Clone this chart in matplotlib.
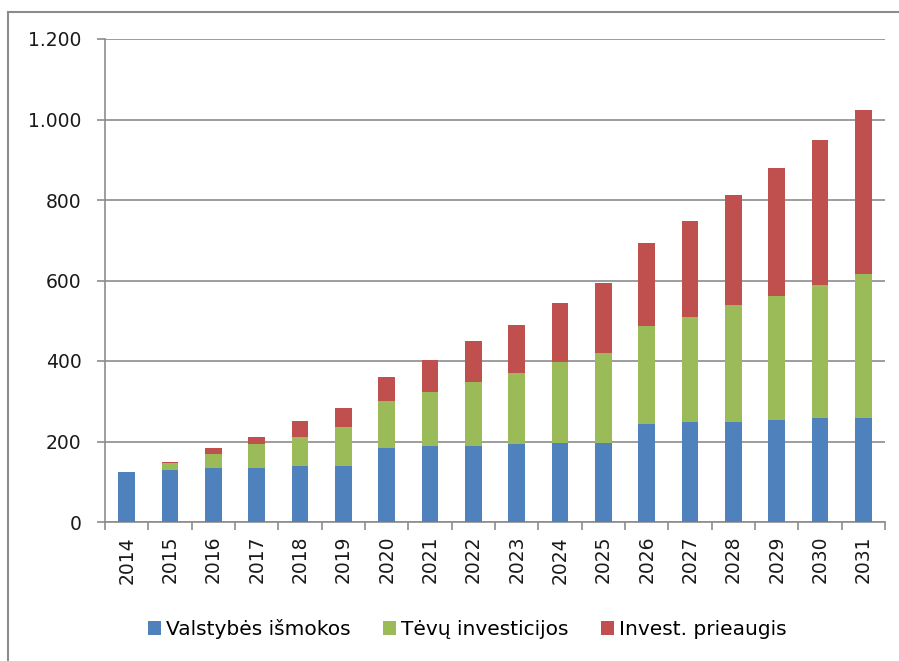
import numpy as np
import matplotlib.pyplot as plt
from matplotlib.lines import Line2D
from matplotlib.patches import Patch

years = ['2014', '2015', '2016', '2017', '2018', '2019', '2020', '2021', '2022',
         '2023', '2024', '2025', '2026', '2027', '2028', '2029', '2030', '2031']
valstybes = [123, 128, 133, 133, 138, 138, 184, 189, 189,
             195, 197, 197, 244, 248, 248, 253, 258, 258]
tevu = [0, 18, 37, 60, 74, 98, 117, 135, 158,
        175, 200, 224, 243, 261, 290, 308, 332, 359]
prieaugis = [0, 4, 14, 19, 38, 46, 60, 79, 103,
             120, 146, 174, 205, 239, 275, 319, 359, 407]
series_names = ['Valstybės išmokos', 'Tėvų investicijos', 'Invest. prieaugis']
colors = ['#4F81BD', '#9BBB59', '#C0504D']
yticks = [0, 200, 400, 600, 800, 1000, 1200]
ytick_labels = ['0', '200', '400', '600', '800', '1.000', '1.200']

plt.rcParams['font.family'] = ['DejaVu Sans']
fig = plt.figure(figsize=(8.99, 6.61), dpi=100)
ax = fig.add_axes([105 / 899, 1 - 522 / 661, 780 / 899, 483 / 661])

x = np.arange(len(years))
b1 = np.array(valstybes)
b2 = b1 + np.array(tevu)
w = 0.39
ax.bar(x, valstybes, w, color=colors[0], linewidth=0, zorder=3)
ax.bar(x, tevu, w, bottom=b1, color=colors[1], linewidth=0, zorder=3)
ax.bar(x, prieaugis, w, bottom=b2, color=colors[2], linewidth=0, zorder=3)

ax.set_xlim(-0.5, len(years) - 0.5)
ax.set_ylim(0, 1200)
ax.set_yticks(yticks)
ax.set_yticklabels(ytick_labels, fontsize=13.5, color='#1a1a1a')
ax.yaxis.grid(True, color='#8C8C8C', linewidth=1.2, zorder=0)
ax.set_axisbelow(True)

ax.set_xticks(x)
ax.set_xticklabels(years, rotation=90, fontsize=13.5, color='#1a1a1a')
ax.set_xticks(np.arange(-0.5, len(years), 1), minor=True)
ax.tick_params(axis='x', which='major', length=0, pad=10)
ax.tick_params(axis='x', which='minor', length=6, color='#8C8C8C', width=1.2)
ax.tick_params(axis='y', length=6, color='#8C8C8C', width=1.2, pad=11)

for s in ['top', 'right']:
    ax.spines[s].set_visible(False)
for s in ['left', 'bottom']:
    ax.spines[s].set_color('#8C8C8C')
    ax.spines[s].set_linewidth(1.2)

handles = [Patch(facecolor=c, edgecolor='none') for c in colors]
fig.legend(handles, series_names, loc='center', bbox_to_anchor=(467 / 899, 1 - 629 / 661),
           ncol=3, frameon=False, fontsize=14.5, handlelength=0.65, handleheight=0.65,
           handletextpad=0.25, columnspacing=1.6)

# outer chart frame
fig.add_artist(Line2D([8 / 899, 8 / 899], [0, 1 - 12 / 661], color='#8C8C8C', lw=1.5))
fig.add_artist(Line2D([8 / 899, 1], [1 - 12 / 661, 1 - 12 / 661], color='#8C8C8C', lw=1.5))

fig.savefig('out.png', dpi=100)
